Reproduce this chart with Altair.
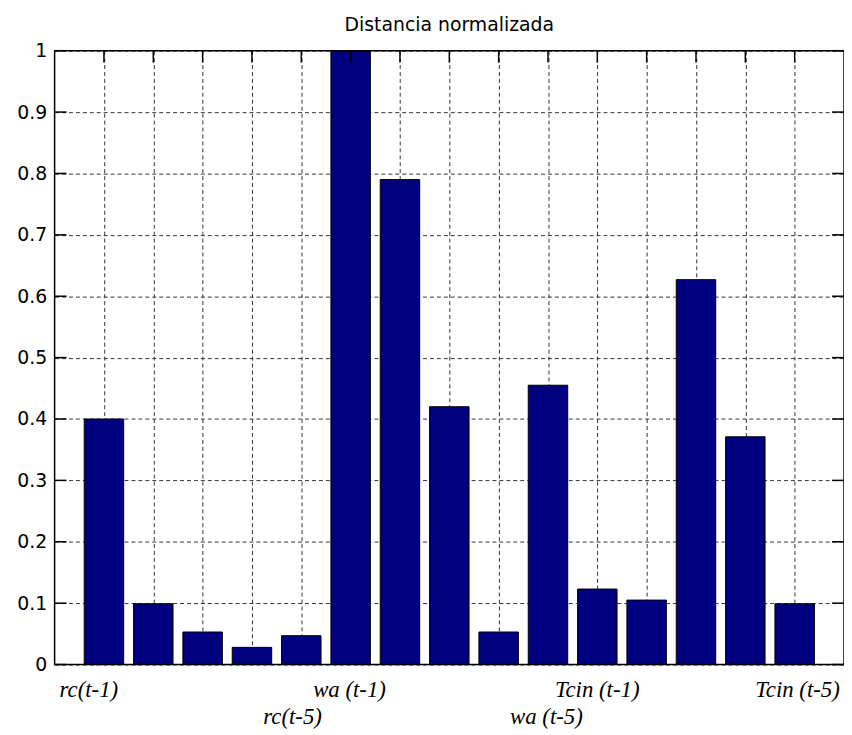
import altair as alt
import pandas as pd

# ---- data ----
positions = list(range(1, 16))
values = [0.400, 0.099, 0.053, 0.028, 0.047, 1.000, 0.790, 0.420,
          0.053, 0.455, 0.123, 0.105, 0.627, 0.371, 0.099]
ytick_values = [0, 0.1, 0.2, 0.3, 0.4, 0.5, 0.6, 0.7, 0.8, 0.9, 1]

label_texts = ["rc(t-1)", "rc(t-5)", "wa (t-1)", "wa (t-5)", "Tcin (t-1)", "Tcin (t-5)"]
label_x = [0.1, 4.23, 5.24, 9.23, 10.14, 14.2]
label_y = [-0.042, -0.086, -0.042, -0.086, -0.042, -0.042]

BAR_W = 0.8
W, H = 796, 619

bars_df = pd.DataFrame({
    "pos": positions,
    "val": values,
    "lo": [p - BAR_W / 2 for p in positions],
    "hi": [p + BAR_W / 2 for p in positions],
})
ticks_df = pd.DataFrame({"pos": positions})
yt_df = pd.DataFrame({"v": ytick_values})
lab_df = pd.DataFrame({"txt": label_texts, "x": label_x, "y": label_y})
frame_df = pd.DataFrame({"k": [0]})

xscale = alt.Scale(domain=[0, 16], nice=False, zero=False)
yscale = alt.Scale(domain=[0, 1], nice=False, zero=False)

grid_x = alt.Axis(values=positions, labels=False, ticks=False, domain=False,
                  grid=True, gridDash=[4, 3], gridColor="#333333", gridOpacity=1,
                  title=None)
grid_y = alt.Axis(values=ytick_values, format="~g", ticks=False, domain=False,
                  grid=True, gridDash=[4, 3], gridColor="#333333", gridOpacity=1,
                  labelFont="DejaVu Sans", labelFontSize=19, labelColor="#000000",
                  labelPadding=8, title=None)

bars = alt.Chart(bars_df).mark_bar(
    color="#000080", stroke="#000000", strokeWidth=1
).encode(
    x=alt.X("lo:Q", scale=xscale, axis=grid_x),
    x2="hi:Q",
    y=alt.Y("val:Q", scale=yscale, axis=grid_y),
    y2=alt.datum(0),
)

TL = 12
rule_style = dict(color="#000000", strokeWidth=1.5)
top_ticks = alt.Chart(ticks_df).mark_rule(**rule_style).encode(
    x=alt.X("pos:Q", scale=xscale, axis=grid_x), y=alt.value(0), y2=alt.value(TL))
bot_ticks = alt.Chart(ticks_df).mark_rule(**rule_style).encode(
    x=alt.X("pos:Q", scale=xscale, axis=grid_x), y=alt.value(H - TL), y2=alt.value(H))
left_ticks = alt.Chart(yt_df).mark_rule(**rule_style).encode(
    y=alt.Y("v:Q", scale=yscale, axis=grid_y), x=alt.value(0), x2=alt.value(TL))
right_ticks = alt.Chart(yt_df).mark_rule(**rule_style).encode(
    y=alt.Y("v:Q", scale=yscale, axis=grid_y), x=alt.value(W - TL), x2=alt.value(W))

frame = alt.Chart(frame_df).mark_rect(
    fill=None, stroke="#000000", strokeWidth=1.5
).encode(x=alt.value(0), x2=alt.value(W), y=alt.value(0), y2=alt.value(H))

labels = alt.Chart(lab_df).mark_text(
    align="left", baseline="middle", font="Liberation Serif",
    fontStyle="italic", fontSize=23, color="#000000"
).encode(
    x=alt.X("x:Q", scale=xscale, axis=grid_x),
    y=alt.Y("y:Q", scale=yscale, axis=grid_y),
    text="txt:N",
)

chart = alt.layer(
    bot_ticks, bars, top_ticks, left_ticks, right_ticks, frame, labels
).properties(
    width=W, height=H,
    title=alt.TitleParams("Distancia normalizada", font="DejaVu Sans",
                          fontSize=19, fontWeight="normal", color="#000000",
                          anchor="middle", offset=7),
    autosize=alt.AutoSizeParams(type="none"),
    padding={"left": 47, "top": 40, "right": 0, "bottom": 66},
    background="#ffffff",
).configure_view(
    stroke=None
)

chart.save("out.html", embed_options={"renderer": "svg", "actions": False})
